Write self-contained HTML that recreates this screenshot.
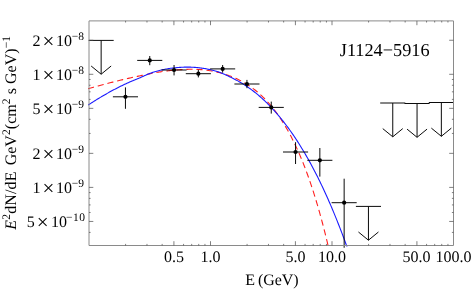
<!DOCTYPE html>
<html><head><meta charset="utf-8"><title>J1124-5916</title>
<style>html,body{margin:0;padding:0;background:#fff;width:471px;height:289px;overflow:hidden}
body{font-family:"Liberation Serif",serif;position:relative}</style></head>
<body>
<svg width="471" height="289" viewBox="0 0 471 289" style="position:absolute;left:0;top:0;will-change:transform;opacity:0.999">
<rect x="0" y="0" width="471" height="289" fill="#fff"/>
<defs><clipPath id="c"><rect x="88.0" y="20.9" width="366.0" height="226.79999999999998"/></clipPath><clipPath id="c2"><rect x="88.0" y="20.9" width="366.0" height="225.5"/></clipPath></defs>
<g clip-path="url(#c2)" fill="none">
<path d="M88.00,88.74 L88.92,88.48 L89.83,88.23 L90.75,87.97 L91.66,87.72 L92.58,87.46 L93.50,87.21 L94.41,86.96 L95.33,86.71 L96.24,86.46 L97.16,86.21 L98.08,85.96 L98.99,85.71 L99.91,85.47 L100.82,85.22 L101.74,84.97 L102.66,84.73 L103.57,84.49 L104.49,84.25 L105.40,84.00 L106.32,83.76 L107.24,83.53 L108.15,83.29 L109.07,83.05 L109.98,82.82 L110.90,82.58 L111.82,82.35 L112.73,82.11 L113.65,81.88 L114.57,81.65 L115.48,81.42 L116.40,81.20 L117.31,80.97 L118.23,80.75 L119.15,80.52 L120.06,80.30 L120.98,80.08 L121.89,79.86 L122.81,79.64 L123.73,79.42 L124.64,79.21 L125.56,78.99 L126.47,78.78 L127.39,78.57 L128.31,78.36 L129.22,78.15 L130.14,77.94 L131.05,77.74 L131.97,77.54 L132.89,77.33 L133.80,77.13 L134.72,76.94 L135.63,76.74 L136.55,76.55 L137.47,76.35 L138.38,76.16 L139.30,75.97 L140.21,75.79 L141.13,75.60 L142.05,75.41 L142.96,75.22 L143.88,75.02 L144.79,74.83 L145.71,74.63 L146.63,74.44 L147.54,74.25 L148.46,74.05 L149.37,73.86 L150.29,73.67 L151.21,73.48 L152.12,73.30 L153.04,73.12 L153.95,72.94 L154.87,72.77 L155.79,72.60 L156.70,72.43 L157.62,72.28 L158.54,72.12 L159.45,71.98 L160.37,71.84 L161.28,71.70 L162.20,71.57 L163.12,71.44 L164.03,71.31 L164.95,71.19 L165.86,71.07 L166.78,70.95 L167.70,70.84 L168.61,70.73 L169.53,70.62 L170.44,70.52 L171.36,70.42 L172.28,70.33 L173.19,70.23 L174.11,70.15 L175.02,70.06 L175.94,69.98 L176.86,69.91 L177.77,69.83 L178.69,69.77 L179.60,69.70 L180.52,69.64 L181.44,69.59 L182.35,69.54 L183.27,69.49 L184.18,69.45 L185.10,69.41 L186.02,69.38 L186.93,69.36 L187.85,69.33 L188.76,69.32 L189.68,69.31 L190.60,69.30 L191.51,69.30 L192.43,69.30 L193.34,69.31 L194.26,69.33 L195.18,69.35 L196.09,69.38 L197.01,69.41 L197.92,69.45 L198.84,69.49 L199.76,69.54 L200.67,69.60 L201.59,69.67 L202.51,69.75 L203.42,69.83 L204.34,69.92 L205.25,70.03 L206.17,70.14 L207.09,70.26 L208.00,70.39 L208.92,70.52 L209.83,70.67 L210.75,70.83 L211.67,70.99 L212.58,71.16 L213.50,71.34 L214.41,71.53 L215.33,71.72 L216.25,71.93 L217.16,72.14 L218.08,72.36 L218.99,72.59 L219.91,72.83 L220.83,73.08 L221.74,73.33 L222.66,73.60 L223.57,73.87 L224.49,74.15 L225.41,74.43 L226.32,74.73 L227.24,75.03 L228.15,75.35 L229.07,75.67 L229.99,76.00 L230.90,76.34 L231.82,76.69 L232.73,77.05 L233.65,77.42 L234.57,77.81 L235.48,78.21 L236.40,78.62 L237.31,79.04 L238.23,79.48 L239.15,79.92 L240.06,80.39 L240.98,80.86 L241.89,81.35 L242.81,81.86 L243.73,82.37 L244.64,82.91 L245.56,83.45 L246.47,84.02 L247.39,84.59 L248.31,85.19 L249.22,85.80 L250.14,86.42 L251.06,87.06 L251.97,87.72 L252.89,88.40 L253.80,89.09 L254.72,89.80 L255.64,90.53 L256.55,91.28 L257.47,92.04 L258.38,92.83 L259.30,93.63 L260.22,94.46 L261.13,95.30 L262.05,96.16 L262.96,97.05 L263.88,97.96 L264.80,98.88 L265.71,99.83 L266.63,100.80 L267.54,101.80 L268.46,102.82 L269.38,103.86 L270.29,104.92 L271.21,106.01 L272.12,107.12 L273.04,108.26 L273.96,109.43 L274.87,110.62 L275.79,111.84 L276.70,113.08 L277.62,114.35 L278.54,115.65 L279.45,116.98 L280.37,118.34 L281.28,119.72 L282.20,121.14 L283.12,122.59 L284.03,124.07 L284.95,125.58 L285.86,127.12 L286.78,128.70 L287.70,130.31 L288.61,131.95 L289.53,133.63 L290.44,135.34 L291.36,137.09 L292.28,138.88 L293.19,140.70 L294.11,142.56 L295.03,144.46 L295.94,146.40 L296.86,148.37 L297.77,150.39 L298.69,152.45 L299.61,154.56 L300.52,156.70 L301.44,158.89 L302.35,161.12 L303.27,163.40 L304.19,165.73 L305.10,168.10 L306.02,170.52 L306.93,172.98 L307.85,175.50 L308.77,178.07 L309.68,180.68 L310.60,183.35 L311.51,186.08 L312.43,188.85 L313.35,191.69 L314.26,194.57 L315.18,197.52 L316.09,200.52 L317.01,203.58 L317.93,206.70 L318.84,209.89 L319.76,213.13 L320.67,216.44 L321.59,219.81 L322.51,223.25 L323.42,226.75 L324.34,230.33 L325.25,233.97 L326.17,237.68 L327.09,241.46 L328.00,245.32 L328.92,249.25 L329.83,253.25 L330.75,257.34 L331.67,261.50 L332.58,265.74 L333.50,270.06 L334.41,274.46" stroke="#ff2020" stroke-width="1.1" stroke-dasharray="6.2,3.85" stroke-dashoffset="0"/>
<path d="M88.00,105.15 L88.92,104.55 L89.83,103.95 L90.75,103.36 L91.66,102.77 L92.58,102.19 L93.50,101.61 L94.41,101.03 L95.33,100.46 L96.24,99.89 L97.16,99.32 L98.08,98.76 L98.99,98.21 L99.91,97.65 L100.82,97.10 L101.74,96.56 L102.66,96.02 L103.57,95.48 L104.49,94.95 L105.40,94.42 L106.32,93.90 L107.24,93.38 L108.15,92.86 L109.07,92.35 L109.98,91.85 L110.90,91.34 L111.82,90.84 L112.73,90.35 L113.65,89.86 L114.57,89.38 L115.48,88.90 L116.40,88.42 L117.31,87.95 L118.23,87.48 L119.15,87.02 L120.06,86.56 L120.98,86.11 L121.89,85.66 L122.81,85.22 L123.73,84.78 L124.64,84.35 L125.56,83.92 L126.47,83.49 L127.39,83.08 L128.31,82.66 L129.22,82.25 L130.14,81.85 L131.05,81.45 L131.97,81.05 L132.89,80.67 L133.80,80.28 L134.72,79.90 L135.63,79.53 L136.55,79.16 L137.47,78.80 L138.38,78.44 L139.30,78.07 L140.21,77.68 L141.13,77.28 L142.05,76.86 L142.96,76.45 L143.88,76.03 L144.79,75.61 L145.71,75.19 L146.63,74.78 L147.54,74.38 L148.46,74.00 L149.37,73.63 L150.29,73.28 L151.21,72.95 L152.12,72.64 L153.04,72.35 L153.95,72.07 L154.87,71.79 L155.79,71.52 L156.70,71.26 L157.62,71.01 L158.54,70.76 L159.45,70.52 L160.37,70.29 L161.28,70.07 L162.20,69.85 L163.12,69.65 L164.03,69.45 L164.95,69.26 L165.86,69.08 L166.78,68.92 L167.70,68.76 L168.61,68.61 L169.53,68.46 L170.44,68.33 L171.36,68.20 L172.28,68.09 L173.19,67.98 L174.11,67.87 L175.02,67.78 L175.94,67.69 L176.86,67.61 L177.77,67.53 L178.69,67.46 L179.60,67.40 L180.52,67.34 L181.44,67.29 L182.35,67.24 L183.27,67.20 L184.18,67.17 L185.10,67.15 L186.02,67.14 L186.93,67.13 L187.85,67.13 L188.76,67.14 L189.68,67.15 L190.60,67.17 L191.51,67.21 L192.43,67.24 L193.34,67.29 L194.26,67.35 L195.18,67.41 L196.09,67.48 L197.01,67.56 L197.92,67.65 L198.84,67.74 L199.76,67.85 L200.67,67.96 L201.59,68.08 L202.51,68.21 L203.42,68.35 L204.34,68.50 L205.25,68.65 L206.17,68.82 L207.09,68.99 L208.00,69.17 L208.92,69.36 L209.83,69.56 L210.75,69.77 L211.67,69.99 L212.58,70.22 L213.50,70.46 L214.41,70.71 L215.33,70.97 L216.25,71.24 L217.16,71.52 L218.08,71.81 L218.99,72.12 L219.91,72.45 L220.83,72.79 L221.74,73.15 L222.66,73.52 L223.57,73.91 L224.49,74.31 L225.41,74.72 L226.32,75.14 L227.24,75.57 L228.15,76.01 L229.07,76.45 L229.99,76.90 L230.90,77.36 L231.82,77.81 L232.73,78.27 L233.65,78.73 L234.57,79.19 L235.48,79.66 L236.40,80.14 L237.31,80.64 L238.23,81.14 L239.15,81.65 L240.06,82.18 L240.98,82.72 L241.89,83.27 L242.81,83.83 L243.73,84.40 L244.64,84.99 L245.56,85.58 L246.47,86.19 L247.39,86.81 L248.31,87.44 L249.22,88.08 L250.14,88.74 L251.06,89.41 L251.97,90.09 L252.89,90.78 L253.80,91.49 L254.72,92.20 L255.64,92.93 L256.55,93.68 L257.47,94.43 L258.38,95.20 L259.30,95.99 L260.22,96.78 L261.13,97.59 L262.05,98.41 L262.96,99.25 L263.88,100.09 L264.80,100.96 L265.71,101.83 L266.63,102.72 L267.54,103.62 L268.46,104.54 L269.38,105.47 L270.29,106.42 L271.21,107.38 L272.12,108.35 L273.04,109.34 L273.96,110.34 L274.87,111.36 L275.79,112.39 L276.70,113.44 L277.62,114.50 L278.54,115.58 L279.45,116.67 L280.37,117.77 L281.28,118.90 L282.20,120.03 L283.12,121.19 L284.03,122.36 L284.95,123.54 L285.86,124.74 L286.78,125.96 L287.70,127.19 L288.61,128.44 L289.53,129.70 L290.44,130.98 L291.36,132.28 L292.28,133.60 L293.19,134.93 L294.11,136.27 L295.03,137.64 L295.94,139.02 L296.86,140.42 L297.77,141.84 L298.69,143.27 L299.61,144.72 L300.52,146.19 L301.44,147.68 L302.35,149.18 L303.27,150.70 L304.19,152.24 L305.10,153.80 L306.02,155.38 L306.93,156.98 L307.85,158.59 L308.77,160.22 L309.68,161.87 L310.60,163.55 L311.51,165.24 L312.43,166.94 L313.35,168.67 L314.26,170.42 L315.18,172.19 L316.09,173.98 L317.01,175.79 L317.93,177.61 L318.84,179.46 L319.76,181.33 L320.67,183.22 L321.59,185.13 L322.51,187.06 L323.42,189.01 L324.34,190.98 L325.25,192.97 L326.17,194.99 L327.09,197.02 L328.00,199.08 L328.92,201.16 L329.83,203.26 L330.75,205.39 L331.67,207.53 L332.58,209.70 L333.50,211.89 L334.41,214.10 L335.33,216.34 L336.25,218.60 L337.16,220.88 L338.08,223.18 L338.99,225.51 L339.91,227.86 L340.83,230.24 L341.74,232.64 L342.66,235.06 L343.58,237.51 L344.49,239.99 L345.41,242.48 L346.32,245.01 L347.24,247.55 L348.16,250.12 L349.07,252.72 L349.99,255.34 L350.90,257.99 L351.82,260.67 L352.74,263.37 L353.65,266.09 L354.57,268.85 L355.48,271.62 L356.40,274.43" stroke="#1a1aff" stroke-width="1.1"/>
</g>
<g stroke="#0a0a0a" stroke-width="1.0" fill="none" clip-path="url(#c)">
<path d="M112.90,96.8H138.00M125.45,87.4V108.8"/>
<path d="M137.20,60.4H162.30M149.75,56.0V65.2"/>
<path d="M161.50,70.0H186.60M174.05,65.0V75.4"/>
<path d="M185.80,73.7H210.90M198.35,69.8V77.4"/>
<path d="M210.10,68.9H235.20M222.65,65.0V72.7"/>
<path d="M234.40,84.0H259.50M246.95,79.9V88.2"/>
<path d="M258.70,107.4H283.80M271.25,101.6V113.6"/>
<path d="M283.00,152.0H308.10M295.55,142.2V164.0"/>
<path d="M307.30,160.3H332.40M319.85,148.0V176.6"/>
<path d="M331.60,202.7H356.70M344.15,178.7V260"/>
<path d="M88.60,40.4H113.70M101.15,40.4V74.21M91.15,66.01L101.15,74.21L111.15,66.01"/>
<path d="M355.90,206.4H381.00M368.45,206.4V240.21M358.45,232.01L368.45,240.21L378.45,232.01"/>
<path d="M380.20,103.0H405.30M392.75,103.0V136.81M382.75,128.61L392.75,136.81L402.75,128.61"/>
<path d="M404.50,103.5H429.60M417.05,103.5V137.31M407.05,129.11L417.05,137.31L427.05,129.11"/>
<path d="M428.80,102.5H453.90M441.35,102.5V136.31M431.35,128.11L441.35,136.31L451.35,128.11"/>
</g>
<g fill="#000">
<circle cx="125.45" cy="96.8" r="2.1"/>
<circle cx="149.75" cy="60.4" r="2.1"/>
<circle cx="174.05" cy="70.0" r="2.1"/>
<circle cx="198.35" cy="73.7" r="2.1"/>
<circle cx="222.65" cy="68.9" r="2.1"/>
<circle cx="246.95" cy="84.0" r="2.1"/>
<circle cx="271.25" cy="107.4" r="2.1"/>
<circle cx="295.55" cy="152.0" r="2.1"/>
<circle cx="319.85" cy="160.3" r="2.1"/>
<circle cx="344.15" cy="202.7" r="2.1"/>
</g>
<g stroke="#8a8a8a" stroke-width="1" fill="none">
<path d="M89.0,20.9H453.5V245.5H89.0Z"/>
<path d="M173.92,245.5v-4.3M173.92,20.9v4.3M210.50,245.5v-4.3M210.50,20.9v4.3M295.42,245.5v-4.3M295.42,20.9v4.3M332.00,245.5v-4.3M332.00,20.9v4.3M416.92,245.5v-4.3M416.92,20.9v4.3M125.58,245.5v-1.6M125.58,20.9v1.6M146.97,245.5v-1.6M146.97,20.9v1.6M162.15,245.5v-1.6M162.15,20.9v1.6M183.55,245.5v-1.6M183.55,20.9v1.6M191.68,245.5v-1.6M191.68,20.9v1.6M198.73,245.5v-1.6M198.73,20.9v1.6M204.94,245.5v-1.6M204.94,20.9v1.6M247.08,245.5v-1.6M247.08,20.9v1.6M268.47,245.5v-1.6M268.47,20.9v1.6M283.65,245.5v-1.6M283.65,20.9v1.6M305.05,245.5v-1.6M305.05,20.9v1.6M313.18,245.5v-1.6M313.18,20.9v1.6M320.23,245.5v-1.6M320.23,20.9v1.6M326.44,245.5v-1.6M326.44,20.9v1.6M368.58,245.5v-1.6M368.58,20.9v1.6M389.97,245.5v-1.6M389.97,20.9v1.6M405.15,245.5v-1.6M405.15,20.9v1.6M426.55,245.5v-1.6M426.55,20.9v1.6M434.68,245.5v-1.6M434.68,20.9v1.6M441.73,245.5v-1.6M441.73,20.9v1.6M447.94,245.5v-1.6M447.94,20.9v1.6M89.0,40.25h4.3M453.5,40.25h-4.3M89.0,74.30h4.3M453.5,74.30h-4.3M89.0,108.35h4.3M453.5,108.35h-4.3M89.0,153.35h4.3M453.5,153.35h-4.3M89.0,187.40h4.3M453.5,187.40h-4.3M89.0,221.45h4.3M453.5,221.45h-4.3M89.0,232.41h1.6M453.5,232.41h-1.6M89.0,212.49h1.6M453.5,212.49h-1.6M89.0,204.92h1.6M453.5,204.92h-1.6M89.0,198.36h1.6M453.5,198.36h-1.6M89.0,192.58h1.6M453.5,192.58h-1.6M89.0,133.44h1.6M453.5,133.44h-1.6M89.0,119.31h1.6M453.5,119.31h-1.6M89.0,99.39h1.6M453.5,99.39h-1.6M89.0,91.82h1.6M453.5,91.82h-1.6M89.0,85.26h1.6M453.5,85.26h-1.6M89.0,79.48h1.6M453.5,79.48h-1.6" stroke="#4a4a4a" stroke-width="0.7"/>
</g>
<g font-family="'Liberation Serif', serif" fill="#000" font-size="16" text-rendering="geometricPrecision">
<text x="173.92" y="261.5" text-anchor="middle">0.5</text>
<text x="210.50" y="261.5" text-anchor="middle">1.0</text>
<text x="295.42" y="261.5" text-anchor="middle">5.0</text>
<text x="332.00" y="261.5" text-anchor="middle">10.0</text>
<text x="416.62" y="261.5" text-anchor="middle">50.0</text>
<text x="453.40" y="261.5" text-anchor="middle">100.0</text>
<text y="46.15" font-size="16"><tspan x="32.42">2</tspan><tspan x="42.52" font-size="21" dy="2.0">×</tspan><tspan x="55.96" dy="-2.0">10</tspan><tspan x="71.76" font-size="11.5" dy="-6.0" letter-spacing="0">−8</tspan></text>
<text y="80.20" font-size="16"><tspan x="32.42">1</tspan><tspan x="42.52" font-size="21" dy="2.0">×</tspan><tspan x="55.96" dy="-2.0">10</tspan><tspan x="71.76" font-size="11.5" dy="-6.0" letter-spacing="0">−8</tspan></text>
<text y="114.25" font-size="16"><tspan x="32.42">5</tspan><tspan x="42.52" font-size="21" dy="2.0">×</tspan><tspan x="55.96" dy="-2.0">10</tspan><tspan x="71.76" font-size="11.5" dy="-6.0" letter-spacing="0">−9</tspan></text>
<text y="159.25" font-size="16"><tspan x="32.42">2</tspan><tspan x="42.52" font-size="21" dy="2.0">×</tspan><tspan x="55.96" dy="-2.0">10</tspan><tspan x="71.76" font-size="11.5" dy="-6.0" letter-spacing="0">−9</tspan></text>
<text y="193.30" font-size="16"><tspan x="32.42">1</tspan><tspan x="42.52" font-size="21" dy="2.0">×</tspan><tspan x="55.96" dy="-2.0">10</tspan><tspan x="71.76" font-size="11.5" dy="-6.0" letter-spacing="0">−9</tspan></text>
<text y="227.35" font-size="16"><tspan x="26.67">5</tspan><tspan x="36.77" font-size="21" dy="2.0">×</tspan><tspan x="51.11" dy="-2.0">10</tspan><tspan x="66.01" font-size="11.5" dy="-6.0" letter-spacing="0.5">−10</tspan></text>
<text x="339.8" y="56.2" font-size="18.25">J1124−5916</text>
<text x="245.2" y="284.75" font-size="16" word-spacing="-0.7" letter-spacing="-0.1">E (GeV)</text>
<text transform="translate(16.2,229.7) rotate(-90)" font-size="16" letter-spacing="0.045" xml:space="preserve"><tspan font-style="italic" letter-spacing="0.15">E</tspan><tspan font-size="11.5" dy="-6.0" letter-spacing="0.15">2</tspan><tspan dy="6.0" letter-spacing="0.15">dN/dE </tspan><tspan dx="1.8">GeV</tspan><tspan font-size="11.5" dy="-6.0">2</tspan><tspan dy="6.0">(cm</tspan><tspan font-size="11.5" dy="-6.0">2</tspan><tspan dy="6.0"> s GeV)</tspan><tspan font-size="11.5" dy="-6.0">−1</tspan></text>
</g>
</svg>
</body></html>
